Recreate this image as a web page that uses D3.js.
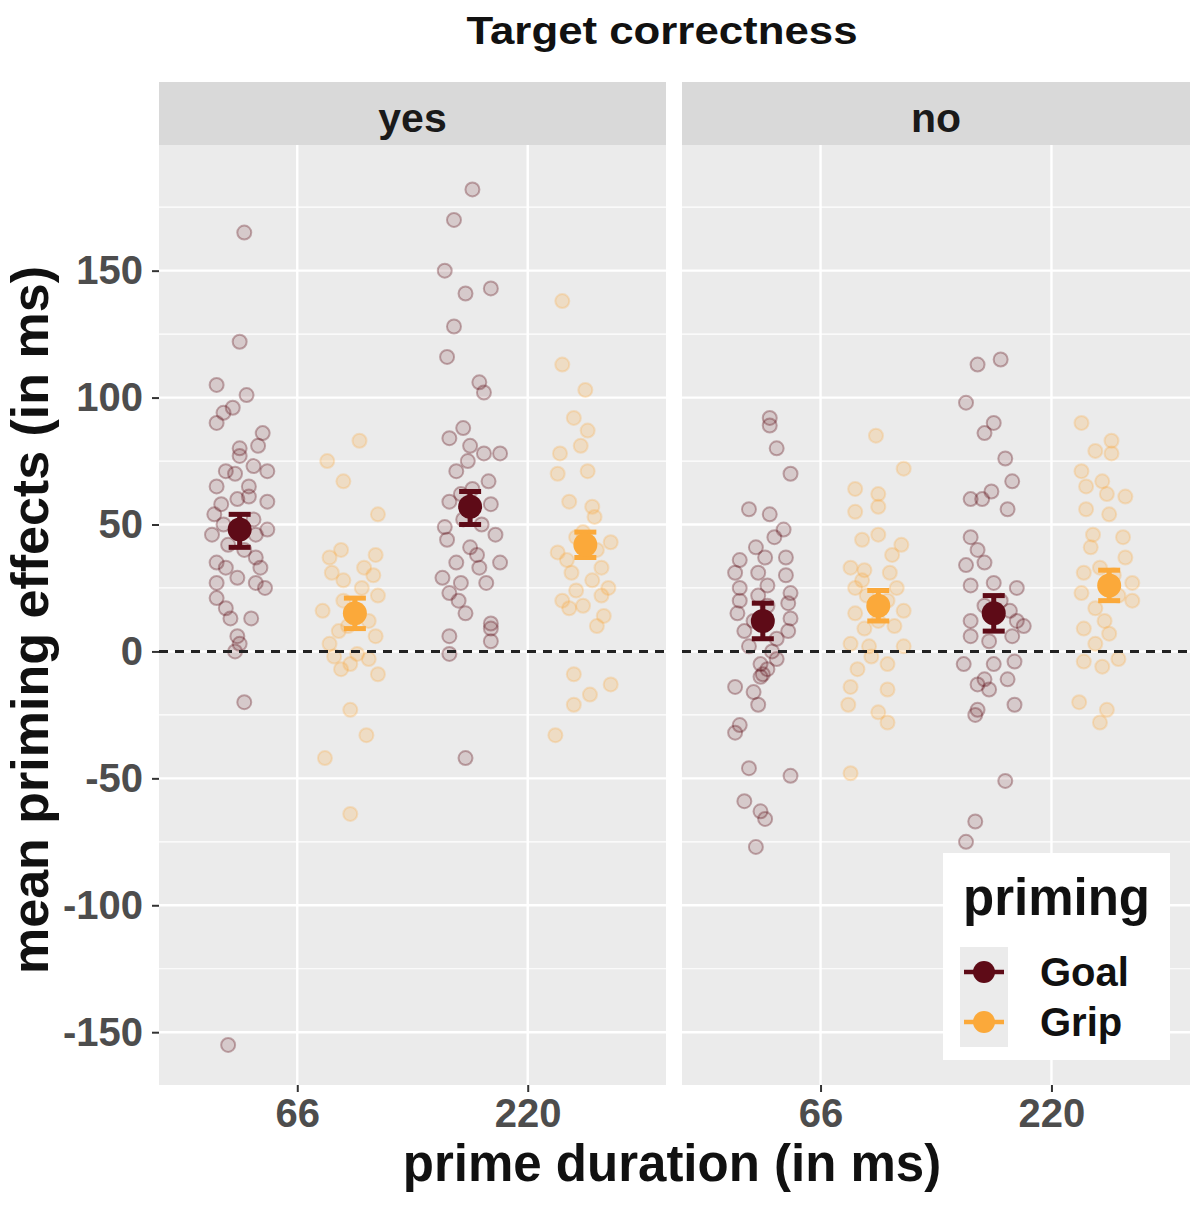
<!DOCTYPE html>
<html>
<head>
<meta charset="utf-8">
<script src="https://cdn.jsdelivr.net/npm/d3@7"></script>
<style>
  body { margin: 0; background: #fff; }
  text { font-family: "Liberation Sans", Arial, sans-serif; }
</style>
</head>
<body>
<script>
// categories
const facets = ["yes", "no"];
const durations = ["66", "220"];
const primings = ["Goal", "Grip"];

// participant priming effects: [jitter offset (category units), effect in ms]
const yes66Goal = [[0.02,165],[0,122],[-0.10,105],[0.03,101],[-0.03,96],[-0.07,94],[-0.10,90],[0.10,86],[0.08,81],[0,80],[0,77],
  [-0.06,71],[-0.02,70],[0.06,73],[0.12,71],[-0.10,65],[0.04,65],[0.04,61],[0.12,59],[-0.08,58],[-0.01,60],[-0.11,54],
  [-0.12,46],[0.12,48],[0.07,46],[-0.07,50],[0.06,52],[-0.05,42],[0.02,40],[-0.10,35],[-0.06,33],[0.07,37],[0.09,33],
  [-0.01,29],[-0.10,27],[0.07,27],[0.11,25],[-0.10,21],[-0.06,17],[-0.04,13],[0.05,13],[-0.01,6],[0,3],[-0.02,0],
  [0.02,-20],[-0.05,-155]];
const yes66Grip = [[0.02,83],[-0.12,75],[-0.05,67],[0.10,54],[-0.06,40],[-0.11,37],[0.09,38],[0.04,33],[-0.10,31],[0.10,22],
  [-0.14,16],[0.09,6],[-0.11,3],[-0.09,-2],[-0.02,-5],[-0.06,-7],[0.10,-9],[-0.02,-23],[0.05,-33],[-0.13,-42],[-0.02,-64],
  [-0.05,20],[0.03,25],[-0.03,10],[0.06,12],[-0.07,8],[0.01,-1],[0.08,30],[-0.05,28],[0.06,-3]];
const yes220Goal = [[0.01,182],[-0.07,170],[-0.11,150],[-0.02,141],[0.09,143],[-0.07,128],[-0.10,116],[0.04,106],[0.06,102],
  [-0.03,88],[-0.09,84],[0,81],[0.06,78],[0.13,78],[-0.01,75],[-0.06,71],[0.08,67],[-0.09,59],[0.09,58],[-0.11,49],
  [0.11,46],[-0.10,44],[0,41],[0.13,35],[-0.06,35],[-0.12,29],[-0.04,27],[0.04,33],[0.07,27],[-0.09,23],[-0.05,20],
  [-0.02,15],[0.09,11],[-0.09,6],[0.09,4],[-0.09,-1],[-0.02,-42],[-0.03,52],[0.05,50],[0.01,64],[-0.04,62],[0.03,38],[0.09,9]];
const yes220Grip = [[-0.10,138],[-0.10,113],[0,103],[-0.05,92],[0.01,87],[-0.02,81],[-0.11,78],[-0.12,70],[0.01,71],[-0.07,59],
  [0.03,57],[-0.01,47],[0.04,53],[0.11,43],[-0.12,39],[0.07,33],[-0.06,31],[0.10,25],[-0.10,20],[-0.07,17],[-0.01,18],
  [0.08,14],[-0.05,-9],[0.11,-13],[0.02,-17],[-0.05,-21],[-0.13,-33],[-0.04,45],[0.05,40],[-0.08,36],[0.03,28],[0.07,22],
  [-0.04,24],[0.05,10]];
const no66Goal = [[0.03,92],[0.03,89],[0.06,80],[0.12,70],[-0.06,56],[0.03,54],[0.09,48],[0.05,45],[-0.03,41],[-0.10,36],[0.01,37],
  [0.10,37],[-0.12,31],[-0.02,31],[0.10,30],[-0.10,25],[0.02,26],[0.12,23],[-0.10,20],[0.11,19],[-0.11,15],[0.12,13],
  [-0.08,8],[0.11,8],[-0.06,2],[0.04,0],[0.06,-3],[-0.01,-5],[0.02,-7],[-0.01,-10],[-0.12,-14],[-0.04,-16],[0,-9],
  [-0.02,-21],[-0.10,-29],[-0.12,-32],[-0.06,-46],[0.12,-49],[-0.08,-59],[-0.01,-63],[0.01,-66],[-0.03,-77],
  [0.02,18],[-0.04,12],[0.06,5],[-0.02,22]];
const no66Grip = [[-0.01,85],[0.11,72],[-0.10,64],[0,62],[-0.10,55],[0,57],[-0.07,44],[0,46],[0.10,42],[-0.12,33],[-0.06,32],
  [0.05,31],[-0.10,25],[0.08,25],[-0.10,15],[0.11,16],[-0.06,9],[0.07,10],[-0.12,3],[-0.04,2],[0.11,2],[-0.09,-7],
  [0.04,-5],[-0.12,-14],[0.04,-15],[-0.13,-21],[0,-24],[0.04,-28],[-0.12,-48],[-0.05,22],[0.04,20],[0,12],[-0.07,28],
  [0.06,38],[-0.03,-2]];
const no220Goal = [[-0.07,113],[0.03,115],[-0.12,98],[0,90],[-0.04,86],[0.05,76],[0.08,67],[-0.10,60],[-0.05,60],[-0.01,63],
  [0.06,56],[-0.10,45],[-0.07,40],[-0.12,34],[-0.04,35],[-0.10,26],[0,27],[0.10,25],[-0.10,12],[0.10,12],[0.13,10],
  [-0.10,6],[0.08,6],[-0.02,4],[-0.13,-5],[0,-5],[0.09,-4],[-0.04,-11],[-0.07,-13],[0.06,-11],[-0.02,-15],[-0.07,-23],
  [0.09,-21],[-0.08,-25],[0.05,-51],[-0.08,-67],[-0.12,-75],[0.03,20],[-0.04,18],[0.07,16]];
const no220Grip = [[-0.12,90],[0.01,83],[-0.06,79],[0.01,78],[-0.12,71],[-0.03,67],[-0.10,65],[-0.01,62],[0.07,61],[-0.10,56],
  [0,54],[-0.07,46],[-0.08,41],[0.07,37],[-0.11,31],[0.10,27],[-0.12,23],[0.10,20],[-0.06,17],[-0.11,9],[0,7],[-0.06,3],
  [0.04,-3],[-0.11,-4],[-0.03,-6],[-0.13,-20],[-0.01,-23],[-0.04,-28],[0.02,30],[-0.04,33],[0.04,22],[-0.02,12],[0.06,45]];

// group means with 95% CI (order: yes-66-Goal, yes-66-Grip, yes-220-Goal, yes-220-Grip, no-...)
const groupMeans = [48, 15, 57, 42, 12, 18, 15, 26];
const ciLow = [41, 9, 50, 37, 5, 12, 8, 20];
const ciHigh = [54, 21, 63, 47, 19, 24, 22, 32];

const yTicks = [-150, -100, -50, 0, 50, 100, 150];
const yMinor = [-125, -75, -25, 25, 75, 125, 175];

const pointSets = [yes66Goal, yes66Grip, yes220Goal, yes220Grip, no66Goal, no66Grip, no220Goal, no220Grip];
const groups = [];
let gi = 0;
facets.forEach(f => durations.forEach(d => primings.forEach(p => {
  groups.push({facet: f, dur: d, prim: p, pts: pointSets[gi], mean: groupMeans[gi], lo: ciLow[gi], hi: ciHigh[gi]});
  gi++;
})));

const colors = {Goal: "#5E0B17", Grip: "#FBA93A"};
const W = 1192, H = 1207;
const panelTop = 145, panelBottom = 1085, stripTop = 82;
const panelRange = {yes: [159, 666], no: [682, 1190]};

const svg = d3.select("body").append("svg").attr("width", W).attr("height", H);

const y = d3.scaleLinear().domain([-170.8, 199.5]).range([panelBottom, panelTop]);
const xScales = {};
facets.forEach(f => { xScales[f] = d3.scaleLinear().domain([0.4, 2.6]).range(panelRange[f]); });
const durPos = d3.scaleOrdinal().domain(durations).range([1, 2]);
const dodge = d3.scaleOrdinal().domain(primings).range([-0.25, 0.25]);

// panels
facets.forEach(f => {
  const [x0, x1] = panelRange[f];
  const g = svg.append("g");
  g.append("rect").attr("x", x0).attr("y", panelTop).attr("width", x1 - x0).attr("height", panelBottom - panelTop).attr("fill", "#EBEBEB");
  g.selectAll(".minor").data(yMinor).enter().append("line")
    .attr("x1", x0).attr("x2", x1).attr("y1", d => y(d)).attr("y2", d => y(d))
    .attr("stroke", "#fff").attr("stroke-width", 1.2);
  g.selectAll(".major").data(yTicks).enter().append("line")
    .attr("x1", x0).attr("x2", x1).attr("y1", d => y(d)).attr("y2", d => y(d))
    .attr("stroke", "#fff").attr("stroke-width", 2.4);
  g.selectAll(".vmajor").data(durations).enter().append("line")
    .attr("x1", d => xScales[f](durPos(d))).attr("x2", d => xScales[f](durPos(d)))
    .attr("y1", panelTop).attr("y2", panelBottom)
    .attr("stroke", "#fff").attr("stroke-width", 2.4);
  // strip
  g.append("rect").attr("x", x0).attr("y", stripTop).attr("width", x1 - x0).attr("height", panelTop - stripTop).attr("fill", "#D9D9D9");
  g.append("text").attr("x", (x0 + x1) / 2).attr("y", 132).attr("text-anchor", "middle")
    .attr("font-size", 41).attr("font-weight", "bold").attr("fill", "#1A1A1A").text(f);

  // x axis
  const xp = d3.scalePoint().domain(durations).range([xScales[f](1), xScales[f](2)]);
  const ax = svg.append("g").attr("transform", `translate(0,${panelBottom})`).call(d3.axisBottom(xp).tickSize(7).tickPadding(7));
  ax.select(".domain").remove();
  ax.selectAll(".tick line").attr("stroke", "#333").attr("stroke-width", 2);
  ax.selectAll(".tick text").attr("font-size", 40).attr("font-weight", "bold").attr("fill", "#4D4D4D")
    .attr("font-family", "Liberation Sans, Arial, sans-serif");
});

// y axis
const ay = svg.append("g").attr("transform", `translate(${panelRange.yes[0]},0)`)
  .call(d3.axisLeft(y).tickValues(yTicks).tickSize(7).tickPadding(9).tickFormat(d => String(d)));
ay.select(".domain").remove();
ay.selectAll(".tick line").attr("stroke", "#333").attr("stroke-width", 2);
ay.selectAll(".tick text").attr("font-size", 40).attr("font-weight", "bold").attr("fill", "#4D4D4D")
  .attr("font-family", "Liberation Sans, Arial, sans-serif");

// jittered participant points
groups.forEach(gr => {
  const x = xScales[gr.facet];
  const base = durPos(gr.dur) + dodge(gr.prim);
  svg.append("g").selectAll("circle").data(gr.pts).enter().append("circle")
    .attr("cx", d => x(base + d[0])).attr("cy", d => y(d[1])).attr("r", 7)
    .attr("fill", colors[gr.prim]).attr("fill-opacity", gr.prim === "Goal" ? 0.15 : 0.22)
    .attr("stroke", colors[gr.prim]).attr("stroke-opacity", gr.prim === "Goal" ? 0.32 : 0.25).attr("stroke-width", 2);
});

// zero reference line
facets.forEach(f => {
  svg.append("line").attr("x1", panelRange[f][0]).attr("x2", panelRange[f][1]).attr("y1", y(0)).attr("y2", y(0))
    .attr("stroke", "#222").attr("stroke-width", 3).attr("stroke-dasharray", "9,7");
});

// means with error bars
groups.forEach(gr => {
  const cx = xScales[gr.facet](durPos(gr.dur) + dodge(gr.prim));
  const g = svg.append("g").attr("stroke", colors[gr.prim]).attr("stroke-width", 5);
  g.append("line").attr("x1", cx).attr("x2", cx).attr("y1", y(gr.lo)).attr("y2", y(gr.hi));
  g.append("line").attr("x1", cx - 11).attr("x2", cx + 11).attr("y1", y(gr.lo)).attr("y2", y(gr.lo));
  g.append("line").attr("x1", cx - 11).attr("x2", cx + 11).attr("y1", y(gr.hi)).attr("y2", y(gr.hi));
  g.append("circle").attr("cx", cx).attr("cy", y(gr.mean)).attr("r", 12).attr("fill", colors[gr.prim]).attr("stroke", "none");
});

// title and axis titles
svg.append("text").attr("x", 662).attr("y", 44).attr("text-anchor", "middle")
  .attr("font-family", "Lato, sans-serif").attr("font-size", 38).attr("font-weight", "bold").attr("fill", "#111")
  .attr("textLength", 391).attr("lengthAdjust", "spacingAndGlyphs").text("Target correctness");
svg.append("text").attr("x", 672).attr("y", 1181).attr("text-anchor", "middle")
  .attr("font-size", 51).attr("font-weight", "bold").attr("fill", "#111").text("prime duration (in ms)");
svg.append("text").attr("transform", "translate(48,620) rotate(-90)").attr("text-anchor", "middle")
  .attr("font-size", 52).attr("font-weight", "bold").attr("fill", "#111").text("mean priming effects (in ms)");

// legend
const lg = svg.append("g");
lg.append("rect").attr("x", 943).attr("y", 853).attr("width", 227).attr("height", 207).attr("fill", "#fff");
lg.append("text").attr("x", 963).attr("y", 915).attr("font-size", 51).attr("font-weight", "bold").attr("fill", "#111").text("priming");
primings.forEach((p, i) => {
  const cy = 972 + i * 50;
  lg.append("rect").attr("x", 960).attr("y", cy - 25).attr("width", 48).attr("height", 50).attr("fill", "#EBEBEB");
  lg.append("line").attr("x1", 964).attr("x2", 1004).attr("y1", cy).attr("y2", cy).attr("stroke", colors[p]).attr("stroke-width", 4.5);
  lg.append("circle").attr("cx", 984).attr("cy", cy).attr("r", 11).attr("fill", colors[p]);
  lg.append("text").attr("x", 1040).attr("y", cy + 14).attr("font-size", 40).attr("font-weight", "bold").attr("fill", "#111").text(p);
});
</script>
</body>
</html>
